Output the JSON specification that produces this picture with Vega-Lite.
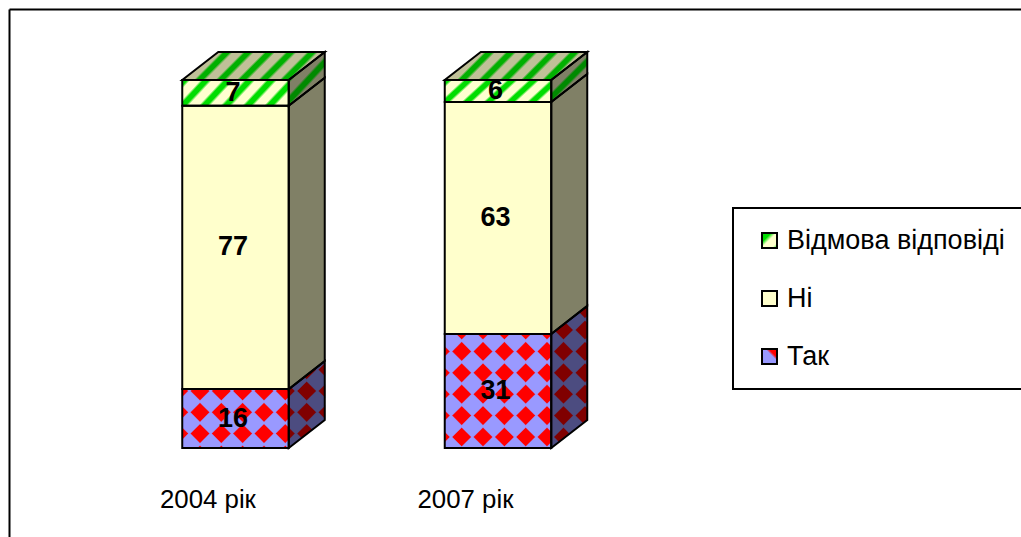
{
"$schema":"https://vega.github.io/schema/vega-lite/v6.json",
"width":1012,"height":528,
"autosize":{"type":"none"},
"padding":{"left":9,"top":9,"right":0,"bottom":0},
"background":"white",
"view":{"stroke":null},
"config":{"font":"Liberation Sans","legend":{"orient":"none","legendX":724,"legendY":199,"strokeColor":"#000","strokeWidth":2,"fillColor":"white","padding":19,"symbolType":"square","symbolSize":225,"symbolOffset":4,"labelFont":"Liberation Sans","labelFontSize":27,"labelColor":"#000","labelOffset":4,"labelLimit":400,"rowPadding":30,"title":null}},
"data":{"values":[
{"year":"2004 рік","pos":1,"answer":"Так","value":16},
{"year":"2004 рік","pos":1,"answer":"Ні","value":77},
{"year":"2004 рік","pos":1,"answer":"Відмова відповіді","value":7},
{"year":"2007 рік","pos":2,"answer":"Так","value":31},
{"year":"2007 рік","pos":2,"answer":"Ні","value":63},
{"year":"2007 рік","pos":2,"answer":"Відмова відповіді","value":6}
]},
"transform":[
{"stack":"value","groupby":["year"],"sort":[{"field":"answer","order":"descending"}],"as":["y0","y1"]},
{"calculate":"datum.pos-0.20286","as":"fx"},
{"calculate":"datum.pos+0.20286","as":"fx2"},
{"calculate":"datum.y0","as":"fy"},
{"calculate":"datum.y1","as":"fy2"}
],
"encoding":{
"x":{"field":"fx","type":"quantitative","scale":{"domain":[0.13714,3.99238],"nice":false,"zero":false},"axis":{"orient":"top","title":null,"labels":false,"ticks":false,"grid":false,"domain":true,"domainWidth":2,"domainColor":"#000"}},
"y":{"field":"fy","type":"quantitative","stack":null,"scale":{"domain":[-24.185,119.293],"nice":false,"zero":false},"axis":{"title":null,"labels":false,"ticks":false,"grid":false,"domain":true,"domainWidth":2,"domainColor":"#000"}}
},
"layer":[
{"mark":{"type":"rect"},
 "encoding":{"x2":{"field":"fx2"},"y2":{"field":"fy2"},
 "fill":{"field":"answer","type":"nominal","scale":{"domain":["Відмова відповіді","Ні","Так"],"range":[{"expr":"{gradient:'linear',x1:0,y1:0,x2:1,y2:1,stops:[{offset:0,color:'#00DD00'},{offset:0.3,color:'#00DD00'},{offset:0.48,color:'#FFFFCC'},{offset:0.82,color:'#FFFFCC'},{offset:1,color:'#00DD00'}]}"},"#FFFFCC",{"expr":"{gradient:'linear',x1:0,y1:1,x2:1,y2:0,stops:[{offset:0,color:'#9999FF'},{offset:0.6,color:'#9999FF'},{offset:0.72,color:'#FF0000'},{offset:1,color:'#FF0000'}]}"}]},
 "legend":{"encoding":{"symbols":{"stroke":{"value":"#000"},"strokeWidth":{"value":2}}}}}}},
{"transform":[{"filter":"datum.answer==='Так'"}],
 "mark":{"type":"rect","fill":"#9999FF"},
 "encoding":{"x2":{"field":"fx2"},"y2":{"field":"fy2"}}},
{"transform":[{"filter":"datum.answer==='Так' && datum.pos===1"},{"calculate":"datum.pos","as":"fx"},{"calculate":"0","as":"fy"}],
 "mark":{"type":"point","filled":true,"color":"#FF0000","opacity":1,"size":4,"stroke":"#9999FF","strokeWidth":0.3,"strokeJoin":"round",
 "shape":"M-45.1 -57 l9.6 -9.6 l9.6 9.6 l-9.6 9.6 z M-23.8 -57 l9.6 -9.6 l9.6 9.6 l-9.6 9.6 z M-2.5 -57 l9.6 -9.6 l9.6 9.6 l-9.6 9.6 z M18.9 -57 l9.6 -9.6 l9.6 9.6 l-9.6 9.6 z M40.2 -57 l9.6 -9.6 l9.6 9.6 l-9.6 9.6 z M-45.1 -35.7 l9.6 -9.6 l9.6 9.6 l-9.6 9.6 z M-23.8 -35.7 l9.6 -9.6 l9.6 9.6 l-9.6 9.6 z M-2.5 -35.7 l9.6 -9.6 l9.6 9.6 l-9.6 9.6 z M18.9 -35.7 l9.6 -9.6 l9.6 9.6 l-9.6 9.6 z M40.2 -35.7 l9.6 -9.6 l9.6 9.6 l-9.6 9.6 z M-45.1 -14.4 l9.6 -9.6 l9.6 9.6 l-9.6 9.6 z M-23.8 -14.4 l9.6 -9.6 l9.6 9.6 l-9.6 9.6 z M-2.5 -14.4 l9.6 -9.6 l9.6 9.6 l-9.6 9.6 z M18.9 -14.4 l9.6 -9.6 l9.6 9.6 l-9.6 9.6 z M40.2 -14.4 l9.6 -9.6 l9.6 9.6 l-9.6 9.6 z M-53.25 -63.05 L-47.2 -57 L-53.25 -50.95 z M-53.25 -41.75 L-47.2 -35.7 L-53.25 -29.65 z M-53.25 -20.45 L-47.2 -14.4 L-53.25 -8.35 z M-38.1 0 L-35.5 -2.6 L-32.9 0 z M-16.8 0 L-14.2 -2.6 L-11.6 0 z M4.5 0 L7.1 -2.6 L9.7 0 z M25.9 0 L28.5 -2.6 L31.1 0 z M47.2 0 L49.8 -2.6 L52.4 0 z"}},
{"transform":[{"filter":"datum.answer==='Так' && datum.pos===2"},{"calculate":"datum.pos","as":"fx"},{"calculate":"0","as":"fy"}],
 "mark":{"type":"point","filled":true,"color":"#FF0000","opacity":1,"size":4,"stroke":"#9999FF","strokeWidth":0.3,"strokeJoin":"round",
 "shape":"M-45.9 -118 l9.6 -9.6 l9.6 9.6 l-9.6 9.6 z M-24.6 -118 l9.6 -9.6 l9.6 9.6 l-9.6 9.6 z M-3.2 -118 l9.6 -9.6 l9.6 9.6 l-9.6 9.6 z M18.1 -118 l9.6 -9.6 l9.6 9.6 l-9.6 9.6 z M39.4 -118 l9.6 -9.6 l9.6 9.6 l-9.6 9.6 z M-45.9 -96.6 l9.6 -9.6 l9.6 9.6 l-9.6 9.6 z M-24.6 -96.6 l9.6 -9.6 l9.6 9.6 l-9.6 9.6 z M-3.2 -96.6 l9.6 -9.6 l9.6 9.6 l-9.6 9.6 z M18.1 -96.6 l9.6 -9.6 l9.6 9.6 l-9.6 9.6 z M39.4 -96.6 l9.6 -9.6 l9.6 9.6 l-9.6 9.6 z M-45.9 -75.2 l9.6 -9.6 l9.6 9.6 l-9.6 9.6 z M-24.6 -75.2 l9.6 -9.6 l9.6 9.6 l-9.6 9.6 z M-3.2 -75.2 l9.6 -9.6 l9.6 9.6 l-9.6 9.6 z M18.1 -75.2 l9.6 -9.6 l9.6 9.6 l-9.6 9.6 z M39.4 -75.2 l9.6 -9.6 l9.6 9.6 l-9.6 9.6 z M-45.9 -53.8 l9.6 -9.6 l9.6 9.6 l-9.6 9.6 z M-24.6 -53.8 l9.6 -9.6 l9.6 9.6 l-9.6 9.6 z M-3.2 -53.8 l9.6 -9.6 l9.6 9.6 l-9.6 9.6 z M18.1 -53.8 l9.6 -9.6 l9.6 9.6 l-9.6 9.6 z M39.4 -53.8 l9.6 -9.6 l9.6 9.6 l-9.6 9.6 z M-45.9 -32.4 l9.6 -9.6 l9.6 9.6 l-9.6 9.6 z M-24.6 -32.4 l9.6 -9.6 l9.6 9.6 l-9.6 9.6 z M-3.2 -32.4 l9.6 -9.6 l9.6 9.6 l-9.6 9.6 z M18.1 -32.4 l9.6 -9.6 l9.6 9.6 l-9.6 9.6 z M39.4 -32.4 l9.6 -9.6 l9.6 9.6 l-9.6 9.6 z M-45.9 -11 l9.6 -9.6 l9.6 9.6 l-9.6 9.6 z M-24.6 -11 l9.6 -9.6 l9.6 9.6 l-9.6 9.6 z M-3.2 -11 l9.6 -9.6 l9.6 9.6 l-9.6 9.6 z M18.1 -11 l9.6 -9.6 l9.6 9.6 l-9.6 9.6 z M39.4 -11 l9.6 -9.6 l9.6 9.6 l-9.6 9.6 z M-53.25 -123.15 L-48.1 -118 L-53.25 -112.85 z M-53.25 -101.75 L-48.1 -96.6 L-53.25 -91.45 z M-53.25 -80.35 L-48.1 -75.2 L-53.25 -70.05 z M-53.25 -58.95 L-48.1 -53.8 L-53.25 -48.65 z M-53.25 -37.55 L-48.1 -32.4 L-53.25 -27.25 z M-53.25 -16.15 L-48.1 -11 L-53.25 -5.85 z"}},
{"transform":[{"filter":"datum.answer==='Так'"},{"calculate":"[0,1]","as":"edge"},{"flatten":["edge"]},{"calculate":"datum.fx2+datum.edge*0.13714","as":"fx"},{"calculate":"datum.y0+datum.edge*7.609","as":"fy"},{"calculate":"datum.y1+datum.edge*7.609","as":"fy2"}],
 "mark":{"type":"area","orient":"vertical","color":"#4C4C80","opacity":1},
 "encoding":{"y2":{"field":"fy2"},"detail":{"field":"year"}}},
{"transform":[{"filter":"datum.answer==='Так' && datum.pos===1"},{"calculate":"datum.pos","as":"fx"},{"calculate":"0","as":"fy"}],
 "mark":{"type":"point","filled":true,"color":"#800000","opacity":1,"size":4,"stroke":"#4C4C80","strokeWidth":0.3,"strokeJoin":"round",
 "shape":"M61.6 -78.3 l9.6 -9.6 l9.6 9.6 l-9.6 9.6 z M61.6 -57 l9.6 -9.6 l9.6 9.6 l-9.6 9.6 z M61.6 -35.7 l9.6 -9.6 l9.6 9.6 l-9.6 9.6 z M61.6 -14.4 L71.2 -24 L76.94 -18.26 L66.14 -9.86 z M89.5 -84.9 L82.9 -78.3 L89.5 -71.7 z M89.5 -63.6 L82.9 -57 L89.5 -50.4 z M89.5 -42.3 L82.9 -35.7 L89.5 -29.1 z M53.5 -62.9 L59.4 -57 L53.5 -51.1 z M53.5 -41.6 L59.4 -35.7 L53.5 -29.8 z M53.5 -20.3 L59.4 -14.4 L53.5 -8.5 z"}},
{"transform":[{"filter":"datum.answer==='Так' && datum.pos===2"},{"calculate":"datum.pos","as":"fx"},{"calculate":"0","as":"fy"}],
 "mark":{"type":"point","filled":true,"color":"#800000","opacity":1,"size":4,"stroke":"#4C4C80","strokeWidth":0.3,"strokeJoin":"round",
 "shape":"M55.9 -118 l9.6 -9.6 l9.6 9.6 l-9.6 9.6 z M55.9 -96.6 l9.6 -9.6 l9.6 9.6 l-9.6 9.6 z M55.9 -75.2 l9.6 -9.6 l9.6 9.6 l-9.6 9.6 z M55.9 -53.8 l9.6 -9.6 l9.6 9.6 l-9.6 9.6 z M55.9 -32.4 l9.6 -9.6 l9.6 9.6 l-9.6 9.6 z M55.9 -11 L65.5 -20.6 L71.73 -14.37 L60.93 -5.97 z M77.4 -139.4 L87 -149 L89 -147 L89 -131.8 L87 -129.8 z M77.4 -118 L87 -127.6 L89 -125.6 L89 -110.4 L87 -108.4 z M77.4 -96.6 L87 -106.2 L89 -104.2 L89 -89 L87 -87 z M77.4 -75.2 L87 -84.8 L89 -82.8 L89 -67.6 L87 -65.6 z M77.4 -53.8 L87 -63.4 L89 -61.4 L89 -46.2 L87 -44.2 z M77.4 -32.4 L87 -42 L89 -40 L89 -27.8 L85.05 -24.75 z"}},
{"transform":[{"filter":"datum.answer==='Ні'"},{"calculate":"[0,1]","as":"edge"},{"flatten":["edge"]},{"calculate":"datum.fx2+datum.edge*0.13714","as":"fx"},{"calculate":"datum.y0+datum.edge*7.609","as":"fy"},{"calculate":"datum.y1+datum.edge*7.609","as":"fy2"}],
 "mark":{"type":"area","orient":"vertical","color":"#808066","opacity":1},
 "encoding":{"y2":{"field":"fy2"},"detail":{"field":"year"}}},
{"transform":[{"filter":"datum.answer==='Відмова відповіді'"},{"calculate":"[0,1]","as":"edge"},{"flatten":["edge"]},{"calculate":"datum.fx2+datum.edge*0.13714","as":"fx"},{"calculate":"datum.y0+datum.edge*7.609","as":"fy"},{"calculate":"datum.y1+datum.edge*7.609","as":"fy2"}],
 "mark":{"type":"area","orient":"vertical","opacity":1,"fill":{"gradient":"linear","x1":0,"y1":0,"x2":0.8156,"y2":1.133,"stops":[
 {"offset":0,"color":"#008A00"},{"offset":0.06,"color":"#008A00"},{"offset":0.095,"color":"#808066"},{"offset":0.21,"color":"#808066"},{"offset":0.245,"color":"#008A00"},
 {"offset":0.25,"color":"#008A00"},{"offset":0.31,"color":"#008A00"},{"offset":0.345,"color":"#808066"},{"offset":0.46,"color":"#808066"},{"offset":0.495,"color":"#008A00"},
 {"offset":0.5,"color":"#008A00"},{"offset":0.56,"color":"#008A00"},{"offset":0.595,"color":"#808066"},{"offset":0.71,"color":"#808066"},{"offset":0.745,"color":"#008A00"},
 {"offset":0.75,"color":"#008A00"},{"offset":0.81,"color":"#008A00"},{"offset":0.845,"color":"#808066"},{"offset":0.96,"color":"#808066"},{"offset":0.995,"color":"#008A00"}]}},
 "encoding":{"y2":{"field":"fy2"},"detail":{"field":"year"}}},
{"transform":[{"filter":"datum.answer==='Відмова відповіді'"},{"calculate":"[0,1]","as":"edge"},{"flatten":["edge"]},{"calculate":"datum.fx+datum.edge*0.13714","as":"fx"},{"calculate":"datum.fx2+datum.edge*0.13714","as":"fx2"},{"calculate":"datum.y1+datum.edge*7.609","as":"fy"}],
 "mark":{"type":"area","orient":"horizontal","opacity":1,"fill":{"gradient":"linear","x1":0,"y1":0,"x2":1.152,"y2":0.2255,"stops":[
 {"offset":0,"color":"#00B000"},{"offset":0.03,"color":"#00B000"},{"offset":0.05,"color":"#C0C098"},{"offset":0.105,"color":"#C0C098"},{"offset":0.122,"color":"#00B000"},
 {"offset":0.125,"color":"#00B000"},{"offset":0.155,"color":"#00B000"},{"offset":0.175,"color":"#C0C098"},{"offset":0.23,"color":"#C0C098"},{"offset":0.247,"color":"#00B000"},
 {"offset":0.25,"color":"#00B000"},{"offset":0.28,"color":"#00B000"},{"offset":0.3,"color":"#C0C098"},{"offset":0.355,"color":"#C0C098"},{"offset":0.372,"color":"#00B000"},
 {"offset":0.375,"color":"#00B000"},{"offset":0.405,"color":"#00B000"},{"offset":0.425,"color":"#C0C098"},{"offset":0.48,"color":"#C0C098"},{"offset":0.497,"color":"#00B000"},
 {"offset":0.5,"color":"#00B000"},{"offset":0.53,"color":"#00B000"},{"offset":0.55,"color":"#C0C098"},{"offset":0.605,"color":"#C0C098"},{"offset":0.622,"color":"#00B000"},
 {"offset":0.625,"color":"#00B000"},{"offset":0.655,"color":"#00B000"},{"offset":0.675,"color":"#C0C098"},{"offset":0.73,"color":"#C0C098"},{"offset":0.747,"color":"#00B000"},
 {"offset":0.75,"color":"#00B000"},{"offset":0.78,"color":"#00B000"},{"offset":0.8,"color":"#C0C098"},{"offset":0.855,"color":"#C0C098"},{"offset":0.872,"color":"#00B000"},
 {"offset":0.875,"color":"#00B000"},{"offset":0.905,"color":"#00B000"},{"offset":0.925,"color":"#C0C098"},{"offset":0.98,"color":"#C0C098"},{"offset":0.997,"color":"#00B000"}]}},
 "encoding":{"x2":{"field":"fx2"},"detail":{"field":"year"}}},
{"transform":[{"filter":"datum.answer==='Ні'"}],
 "mark":{"type":"rect","fill":"#FFFFCC"},
 "encoding":{"x2":{"field":"fx2"},"y2":{"field":"fy2"}}},
{"transform":[{"filter":"datum.answer==='Відмова відповіді'"}],
 "mark":{"type":"rect","fill":{"gradient":"linear","x1":0,"y1":0,"x2":1.166,"y2":0.263,"stops":[
 {"offset":0,"color":"#00DD00"},{"offset":0.04,"color":"#00DD00"},{"offset":0.065,"color":"#FFFFD0"},{"offset":0.14,"color":"#FFFFD0"},{"offset":0.163,"color":"#00DD00"},
 {"offset":0.1667,"color":"#00DD00"},{"offset":0.2067,"color":"#00DD00"},{"offset":0.2317,"color":"#FFFFD0"},{"offset":0.3067,"color":"#FFFFD0"},{"offset":0.3297,"color":"#00DD00"},
 {"offset":0.3333,"color":"#00DD00"},{"offset":0.3733,"color":"#00DD00"},{"offset":0.3983,"color":"#FFFFD0"},{"offset":0.4733,"color":"#FFFFD0"},{"offset":0.4963,"color":"#00DD00"},
 {"offset":0.5,"color":"#00DD00"},{"offset":0.54,"color":"#00DD00"},{"offset":0.565,"color":"#FFFFD0"},{"offset":0.64,"color":"#FFFFD0"},{"offset":0.663,"color":"#00DD00"},
 {"offset":0.6667,"color":"#00DD00"},{"offset":0.7067,"color":"#00DD00"},{"offset":0.7317,"color":"#FFFFD0"},{"offset":0.8067,"color":"#FFFFD0"},{"offset":0.8297,"color":"#00DD00"},
 {"offset":0.8333,"color":"#00DD00"},{"offset":0.8733,"color":"#00DD00"},{"offset":0.8983,"color":"#FFFFD0"},{"offset":0.9733,"color":"#FFFFD0"},{"offset":0.9963,"color":"#00DD00"}]}},
 "encoding":{"x2":{"field":"fx2"},"y2":{"field":"fy2"}}},
{"transform":[{"calculate":"[0,1]","as":"edge"},{"flatten":["edge"]},{"calculate":"datum.fx2+datum.edge*0.13714","as":"fx"},{"calculate":"datum.y0+datum.edge*7.609","as":"fy"},{"calculate":"datum.y1+datum.edge*7.609","as":"fy2"}],
 "mark":{"type":"area","orient":"vertical","fillOpacity":0,"stroke":"#000","strokeWidth":2,"strokeJoin":"miter"},
 "encoding":{"y2":{"field":"fy2"},"detail":[{"field":"year"},{"field":"answer"}]}},
{"transform":[{"filter":"datum.answer==='Відмова відповіді'"},{"calculate":"[0,1]","as":"edge"},{"flatten":["edge"]},{"calculate":"datum.fx+datum.edge*0.13714","as":"fx"},{"calculate":"datum.fx2+datum.edge*0.13714","as":"fx2"},{"calculate":"datum.y1+datum.edge*7.609","as":"fy"}],
 "mark":{"type":"area","orient":"horizontal","fillOpacity":0,"stroke":"#000","strokeWidth":2,"strokeJoin":"miter"},
 "encoding":{"x2":{"field":"fx2"},"detail":{"field":"year"}}},
{"mark":{"type":"rect","fillOpacity":0,"stroke":"#000","strokeWidth":2},
 "encoding":{"x2":{"field":"fx2"},"y2":{"field":"fy2"}}},
{"transform":[{"calculate":"datum.pos-0.0095","as":"fx"},{"calculate":"(datum.y0+datum.y1)/2","as":"fy"}],
 "mark":{"type":"text","font":"Liberation Sans","fontWeight":"bold","fontSize":27,"color":"#000","baseline":"middle","align":"center"},
 "encoding":{"text":{"field":"value","type":"quantitative"}}},
{"transform":[{"filter":"datum.answer==='Так'"},{"calculate":"datum.pos===1 ? 0.895 : 1.876","as":"fx"},{"calculate":"-14","as":"fy"}],
 "mark":{"type":"text","font":"Liberation Sans","fontSize":25.8,"color":"#000","baseline":"middle","align":"center"},
 "encoding":{"text":{"field":"year","type":"nominal"}}}
]
}
